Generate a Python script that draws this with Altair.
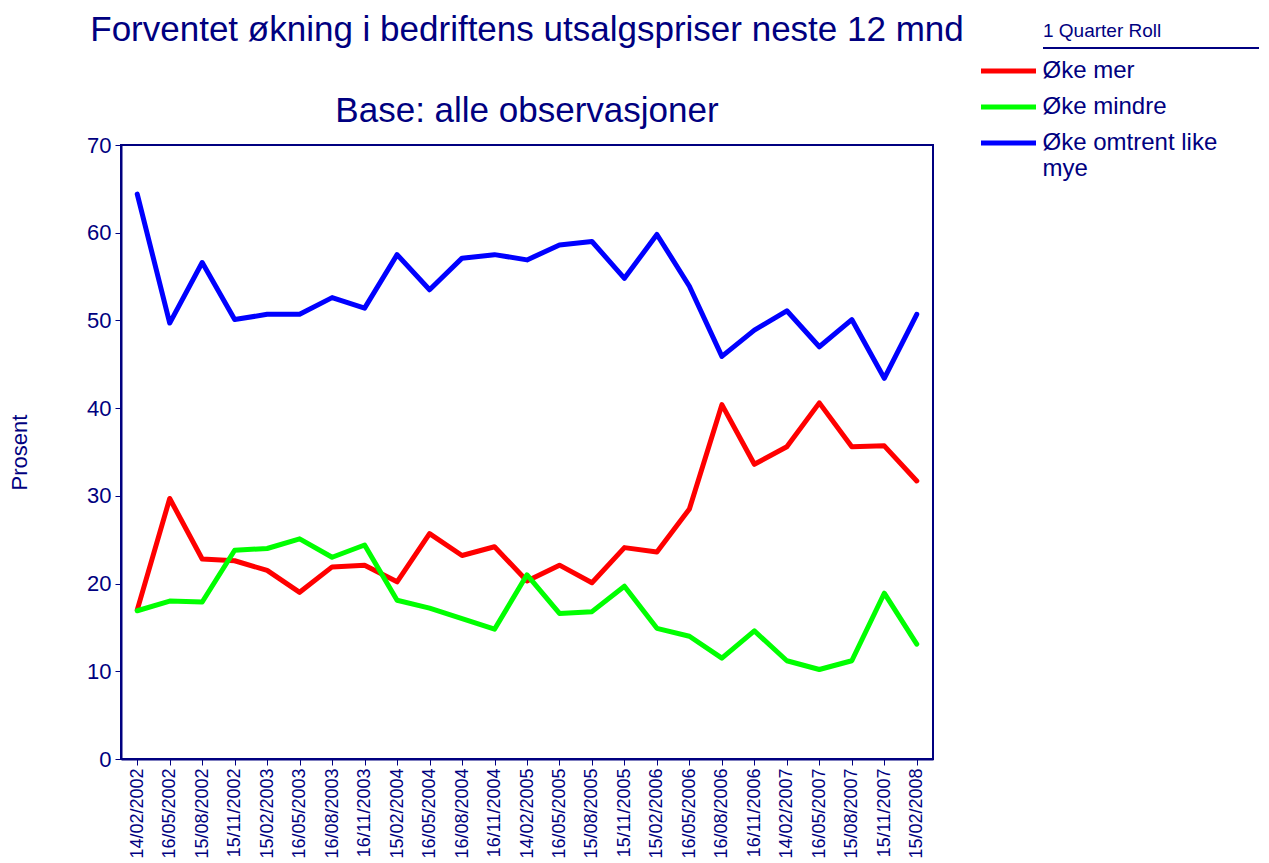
import altair as alt
import pandas as pd

dates = ["14/02/2002", "16/05/2002", "15/08/2002", "15/11/2002", "15/02/2003",
         "16/05/2003", "16/08/2003", "16/11/2003", "15/02/2004", "16/05/2004",
         "16/08/2004", "16/11/2004", "14/02/2005", "16/05/2005", "15/08/2005",
         "15/11/2005", "15/02/2006", "16/05/2006", "16/08/2006", "16/11/2006",
         "14/02/2007", "16/05/2007", "15/08/2007", "15/11/2007", "15/02/2008"]

oke_mer = [17.0, 29.7, 22.8, 22.6, 21.5, 19.0, 21.9, 22.1, 20.2, 25.7, 23.2, 24.2, 20.3,
           22.1, 20.1, 24.1, 23.6, 28.5, 40.4, 33.6, 35.6, 40.6, 35.6, 35.7, 31.7]
oke_mindre = [16.9, 18.0, 17.9, 23.8, 24.0, 25.1, 23.0, 24.4, 18.1, 17.2, 16.0, 14.8, 21.0,
              16.6, 16.8, 19.7, 14.9, 14.0, 11.5, 14.6, 11.2, 10.2, 11.2, 18.9, 13.1]
oke_like = [64.4, 49.7, 56.6, 50.1, 50.7, 50.7, 52.6, 51.4, 57.5, 53.5, 57.1, 57.5, 56.9,
            58.6, 59.0, 54.8, 59.8, 53.9, 45.9, 48.9, 51.1, 47.0, 50.1, 43.4, 50.7]

series_names = ["Øke mer", "Øke mindre", "Øke omtrent like mye"]
series_colors = ["#ff0000", "#00ff00", "#0000ff"]
y_ticks = [0, 10, 20, 30, 40, 50, 60, 70]
legend_heading = ["1 Quarter Roll"]

rows = []
for name, vals in zip(series_names, [oke_mer, oke_mindre, oke_like]):
    for d, v in zip(dates, vals):
        rows.append({"Dato": d, "Verdi": v, "Serie": name, "ord": series_names.index(name)})
df = pd.DataFrame(rows)

NAVY = "#000080"
FONT = "Liberation Sans"

lines = alt.Chart(df).mark_line(strokeWidth=5, strokeJoin="round", strokeCap="round").encode(
    x=alt.X("Dato:N", sort=dates, title=None,
            scale=alt.Scale(type="point", padding=0.5),
            axis=alt.Axis(labelAngle=-90, labelFontSize=18, labelColor=NAVY, labelFont=FONT,
                          domainColor=NAVY, domainWidth=2, tickColor=NAVY, tickSize=6,
                          labelPadding=3, grid=False, labelOverlap=False)),
    y=alt.Y("Verdi:Q", title="Prosent",
            scale=alt.Scale(domain=[0, 70], nice=False),
            axis=alt.Axis(values=y_ticks, labelFontSize=22, labelColor=NAVY, labelFont=FONT,
                          titleFontSize=22, titleColor=NAVY, titleFont=FONT, titleFontWeight="normal",
                          titlePadding=55, domainColor=NAVY, domainWidth=2, tickColor=NAVY,
                          tickSize=6, labelPadding=4, grid=False)),
    color=alt.Color("Serie:N", sort=series_names,
                    scale=alt.Scale(domain=series_names, range=series_colors),
                    legend=alt.Legend(title=None, orient="none", legendX=875.5, legendY=-86,
                                      symbolType="M-5.5,0L5.5,0", symbolSize=100, symbolStrokeWidth=5,
                                      labelFontSize=24, labelColor=NAVY, labelFont=FONT,
                                      labelOffset=22, rowPadding=12, padding=0, labelLimit=400,
                                      gridAlign="none",
                                      labelExpr="datum.label == 'Øke omtrent like mye' ? ['Øke omtrent like', 'mye'] : datum.label")),
    order=alt.Order("ord:Q"),
    detail="Serie:N",
)

heading_df = pd.DataFrame({"t": legend_heading})
heading = alt.Chart(heading_df).mark_text(align="left", baseline="middle", fontSize=19,
                                          font=FONT, color=NAVY).encode(
    text="t:N", x=alt.value(922), y=alt.value(-114))
underline = alt.Chart(heading_df).mark_rule(color=NAVY, strokeWidth=2).encode(
    x=alt.value(922), x2=alt.value(1138), y=alt.value(-97))

chart = alt.layer(lines, heading, underline).properties(
    width=812, height=614,
    padding={"left": 0, "top": 5, "right": 0, "bottom": 0},
    title=alt.TitleParams(text="Forventet økning i bedriftens utsalgspriser neste 12 mnd",
                          subtitle="Base: alle observasjoner",
                          fontSize=35, subtitleFontSize=35, font=FONT, subtitleFont=FONT,
                          color=NAVY, subtitleColor=NAVY, fontWeight="normal",
                          subtitlePadding=46, offset=-107, anchor="middle"),
).configure(background="white").configure_view(stroke=NAVY, strokeWidth=2)

chart.save("out.html", embed_options={"renderer": "svg", "actions": False})
